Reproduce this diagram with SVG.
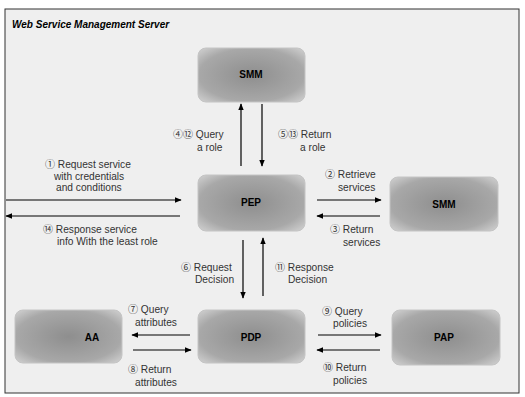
<svg xmlns="http://www.w3.org/2000/svg" width="525" height="397" viewBox="0 0 525 397">
<defs>
<radialGradient id="ng" cx="0.5" cy="0.5" r="0.7">
<stop offset="0" stop-color="#8e8e8e"/>
<stop offset="0.7" stop-color="#a8a8a8"/>
<stop offset="1" stop-color="#d2d2d2"/>
</radialGradient>
<marker id="ah" viewBox="0 0 10 10" refX="9" refY="5" markerWidth="7" markerHeight="7" orient="auto" markerUnits="userSpaceOnUse">
<path d="M0,1 L10,5 L0,9 Z" fill="#000"/>
</marker>
<style>
.node rect{fill:url(#ng);stroke:#c4c4c4;stroke-width:1}
.node text{font-family:"Liberation Sans",Arial,sans-serif;font-size:10px;font-weight:bold;fill:#000;text-anchor:middle}
.lbl{font-family:"Liberation Sans",Arial,sans-serif;font-size:10.2px;fill:#333}
.n{font-family:"Noto Sans CJK SC","DejaVu Sans",sans-serif;font-size:10px}
.c line{stroke:#000;stroke-width:1.2;marker-end:url(#ah)}
</style>
</defs>
<rect x="0" y="0" width="525" height="397" fill="#fff"/>
<rect x="5" y="9" width="514" height="384" fill="#efefef" stroke="#333" stroke-width="1"/>
<text x="12" y="28" font-family="Liberation Sans,Arial,sans-serif" font-size="10" font-weight="bold" font-style="italic" fill="#000">Web Service Management Server</text>

<g id="smm-top" class="node"><rect x="198" y="48" width="107" height="54" rx="8"/><text x="251" y="78">SMM</text></g>
<g id="pep" class="node"><rect x="198" y="175" width="107" height="56" rx="8"/><text x="251" y="206">PEP</text></g>
<g id="smm-right" class="node"><rect x="390" y="177" width="108" height="54" rx="8"/><text x="444" y="208">SMM</text></g>
<g id="aa" class="node"><rect x="15" y="310" width="107" height="53" rx="8"/><text x="92" y="341">AA</text></g>
<g id="pdp" class="node"><rect x="198" y="310" width="107" height="53" rx="8"/><text x="251" y="341">PDP</text></g>
<g id="pap" class="node"><rect x="392" y="310" width="108" height="55" rx="8"/><text x="444" y="341">PAP</text></g>

<g id="connectors" class="c">
<line x1="241" y1="166" x2="241" y2="104"/>
<line x1="262" y1="104" x2="262" y2="166"/>
<line x1="6" y1="200" x2="181" y2="200"/>
<line x1="180" y1="216" x2="6" y2="216"/>
<line x1="317" y1="200" x2="381" y2="200"/>
<line x1="380" y1="216" x2="317" y2="216"/>
<line x1="243" y1="240" x2="243" y2="298"/>
<line x1="263" y1="296" x2="263" y2="238"/>
<line x1="190" y1="335" x2="132" y2="335"/>
<line x1="133" y1="350" x2="191" y2="350"/>
<line x1="318" y1="335" x2="381" y2="335"/>
<line x1="380" y1="350" x2="317" y2="350"/>
</g>

<g id="labels" class="lbl">
<text x="173" y="138"><tspan class="n">④⑫</tspan> Query</text>
<text x="197" y="151">a role</text>
<text x="278" y="138"><tspan class="n">⑤⑬</tspan> Return</text>
<text x="300" y="151">a role</text>
<text x="45" y="168"><tspan class="n">①</tspan> Request service</text>
<text x="54" y="180">with credentials</text>
<text x="56" y="191">and conditions</text>
<text x="43" y="233"><tspan class="n">⑭</tspan> Response service</text>
<text x="57" y="245">info With the least role</text>
<text x="325" y="178"><tspan class="n">②</tspan> Retrieve</text>
<text x="338" y="191">services</text>
<text x="330" y="233"><tspan class="n">③</tspan> Return</text>
<text x="343" y="246">services</text>
<text x="181" y="271"><tspan class="n">⑥</tspan> Request</text>
<text x="195" y="283">Decision</text>
<text x="275" y="271"><tspan class="n">⑪</tspan> Response</text>
<text x="288" y="283">Decision</text>
<text x="128" y="313"><tspan class="n">⑦</tspan> Query</text>
<text x="135" y="326">attributes</text>
<text x="128" y="373"><tspan class="n">⑧</tspan> Return</text>
<text x="135" y="386">attributes</text>
<text x="322" y="315"><tspan class="n">⑨</tspan> Query</text>
<text x="333" y="327">policies</text>
<text x="323" y="371"><tspan class="n">⑩</tspan> Return</text>
<text x="333" y="384">policies</text>
</g>
</svg>
